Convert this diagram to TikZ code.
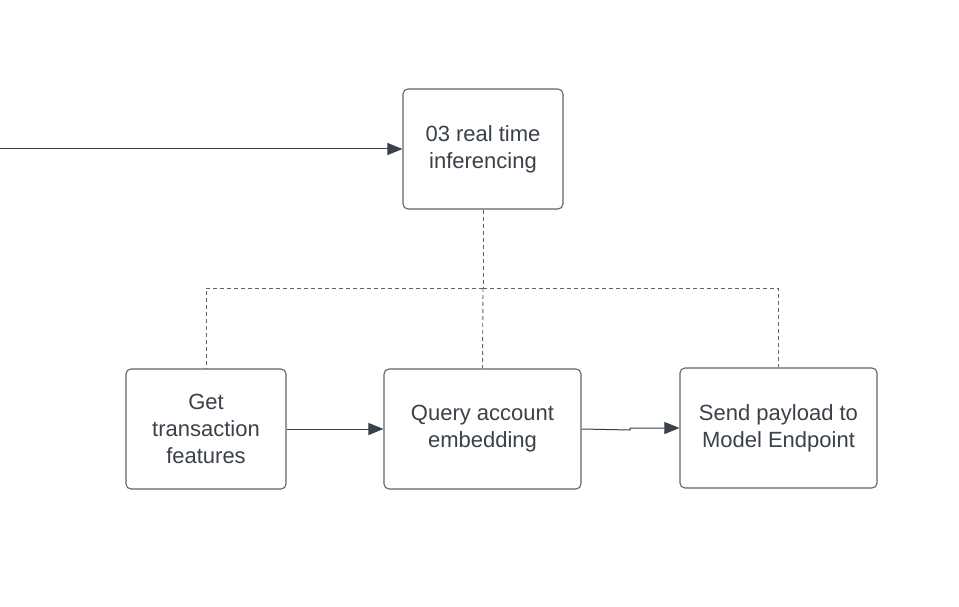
\documentclass[tikz,border=0pt]{standalone}
\usepackage{fontspec}
\setmainfont{Liberation Sans}
\usetikzlibrary{arrows.meta}
\definecolor{txt}{HTML}{3A414A}
\definecolor{bord}{HTML}{5F646B}
\definecolor{dash}{HTML}{5F646B}
\tikzset{
  box/.style={draw=bord, line width=1.1pt, rounded corners=5pt, fill=white, inner sep=0pt,
    text=txt, align=center, font=\fontsize{22}{27}\selectfont},
  conn/.style={draw=txt, line width=1pt, -{Triangle[length=15pt,width=12pt]}},
  bus/.style={draw=dash, line width=0.9pt, dash pattern=on 4pt off 3pt}
}
\begin{document}
\begin{tikzpicture}[x=1pt,y=-1pt]
\useasboundingbox (0,0) rectangle (959,607);
\fill[white] (0,0) rectangle (959,607);
\coordinate (src) at (0,149);
\coordinate (bus) at (483,288);
\node[box, minimum width=160pt, minimum height=120pt] (rt) at (483,149) {03 real time\\inferencing};
\node[box, minimum width=160pt, minimum height=120pt] (get) at (206,429) {Get\\transaction\\features};
\node[box, minimum width=197pt, minimum height=120pt] (qry) at (482.5,429) {Query account\\embedding};
\node[box, minimum width=197pt, minimum height=120pt] (snd) at (778.5,428) {Send payload to\\Model Endpoint};
\draw[conn] (src) -- (rt.west);
\draw[bus] (rt.south) -- (bus);
\draw[bus] (bus) -| (get.north);
\draw[bus] (bus) -- (qry.north);
\draw[bus] (bus) -| (snd.north);
\draw[conn] (get.east) -- (qry.west);
\draw[conn] (qry.east) -- (630,430) -- (630,428) -- (snd.west);
\end{tikzpicture}
\end{document}
